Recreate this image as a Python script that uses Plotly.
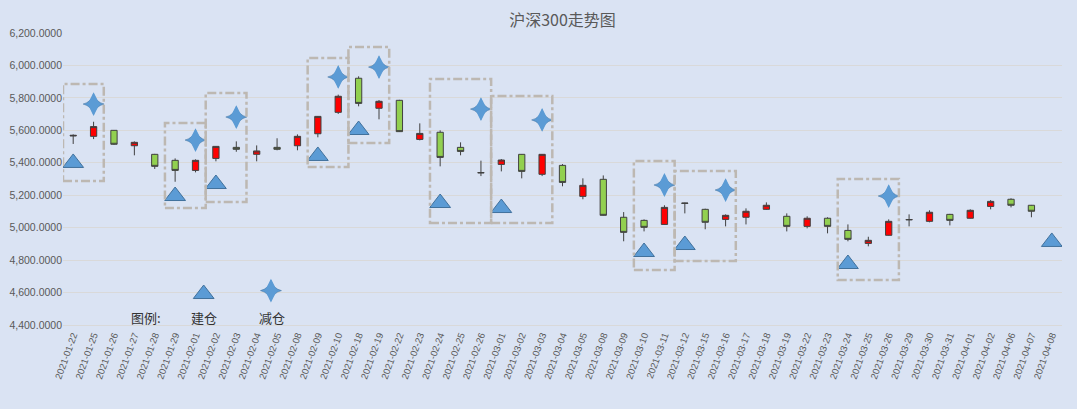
import plotly.graph_objects as go

DATES = ["2021-01-22", "2021-01-25", "2021-01-26", "2021-01-27", "2021-01-28", "2021-01-29",
         "2021-02-01", "2021-02-02", "2021-02-03", "2021-02-04", "2021-02-05", "2021-02-08",
         "2021-02-09", "2021-02-10", "2021-02-18", "2021-02-19", "2021-02-22", "2021-02-23",
         "2021-02-24", "2021-02-25", "2021-02-26", "2021-03-01", "2021-03-02", "2021-03-03",
         "2021-03-04", "2021-03-05", "2021-03-08", "2021-03-09", "2021-03-10", "2021-03-11",
         "2021-03-12", "2021-03-15", "2021-03-16", "2021-03-17", "2021-03-18", "2021-03-19",
         "2021-03-22", "2021-03-23", "2021-03-24", "2021-03-25", "2021-03-26", "2021-03-29",
         "2021-03-30", "2021-03-31", "2021-04-01", "2021-04-02", "2021-04-06", "2021-04-07",
         "2021-04-08"]

OPEN = [5565, 5563, 5600, 5505, 5452, 5415, 5353, 5427, 5495, 5452, 5495, 5505,
        5579, 5711, 5921, 5736, 5785, 5544, 5588, 5495, 5340, 5390, 5452, 5329,
        5384, 5193, 5298, 5064, 5045, 5020, 5152, 5113, 5051, 5064, 5113, 5070,
        5008, 5058, 4983, 4903, 4953, 5048, 5039, 5082, 5058, 5131, 5175, 5138, None]
HIGH = [5575, 5653, 5602, 5532, 5455, 5427, 5421, 5503, 5532, 5507, 5551, 5575,
        5688, 5820, 5933, 5787, 5788, 5643, 5600, 5526, 5413, 5423, 5454, 5454,
        5392, 5304, 5322, 5096, 5051, 5138, 5154, 5117, 5082, 5119, 5156, 5088,
        5070, 5064, 5020, 4944, 5051, 5082, 5107, 5085, 5113, 5170, 5181, 5140, None]
LOW = [5516, 5546, 5510, 5446, 5362, 5283, 5341, 5409, 5468, 5409, 5477, 5477,
       5557, 5701, 5748, 5668, 5590, 5538, 5378, 5446, 5318, 5347, 5304, 5318,
       5255, 5175, 5074, 4916, 4977, 5018, 5088, 4990, 5008, 5020, 5110, 4977,
       4996, 4965, 4916, 4885, 4951, 5008, 5033, 5014, 5056, 5113, 5125, 5064, None]
CLOSE = [5569, 5623, 5514, 5526, 5378, 5353, 5415, 5501, 5483, 5473, 5483, 5563,
         5686, 5810, 5766, 5779, 5592, 5581, 5433, 5470, 5338, 5417, 5347, 5452,
         5279, 5261, 5076, 4971, 5002, 5125, 5150, 5033, 5076, 5101, 5138, 5008,
         5058, 5008, 4928, 4922, 5039, 5050, 5095, 5045, 5107, 5162, 5138, 5101, None]

# 建仓 (triangles) and 减仓 (stars)
BUILD_DATES = ["2021-01-22", "2021-01-29", "2021-02-02", "2021-02-09", "2021-02-18", "2021-02-24",
               "2021-03-01", "2021-03-10", "2021-03-12", "2021-03-24", "2021-04-08"]
BUILD_VALUES = [5399, 5195, 5269, 5442, 5602, 5152, 5121, 4850, 4893, 4776, 4912]
REDUCE_DATES = ["2021-01-25", "2021-02-01", "2021-02-03", "2021-02-10", "2021-02-19", "2021-02-26",
                "2021-03-03", "2021-03-11", "2021-03-16", "2021-03-26"]
REDUCE_VALUES = [5762, 5540, 5682, 5929, 5990, 5731, 5664, 5263, 5232, 5195]

# dashed groups: first date, last date, low, high
BOX_START = ["2021-01-22", "2021-01-29", "2021-02-02", "2021-02-09", "2021-02-18",
             "2021-02-24", "2021-03-01", "2021-03-10", "2021-03-12", "2021-03-24"]
BOX_END = ["2021-01-25", "2021-02-01", "2021-02-03", "2021-02-10", "2021-02-19",
           "2021-02-26", "2021-03-03", "2021-03-11", "2021-03-16", "2021-03-26"]
BOX_LOW = [5288, 5121, 5158, 5374, 5522, 5029, 5029, 4739, 4795, 4677]
BOX_HIGH = [5886, 5645, 5830, 6046, 6114, 5916, 5812, 5411, 5349, 5300]

pos = {d: i for i, d in enumerate(DATES)}
xs = list(range(len(DATES)))

GRAY = "#595959"
BLUE = "#5B9BD5"
EDGE = "#41719C"


def add_triangles(x, y):
    fig.add_trace(go.Scatter(
        x=x, y=y, mode="markers",
        marker=dict(symbol="triangle-up", size=18, color=BLUE, line=dict(color=EDGE, width=1)),
        showlegend=False, hoverinfo="skip",
    ))


def add_stars(x, y):
    # thin four-point star: small star plus a tall narrow diamond
    fig.add_trace(go.Scatter(
        x=x, y=y, mode="markers",
        marker=dict(symbol="star-diamond", size=15, color=BLUE, line=dict(color=EDGE, width=0.5)),
        showlegend=False, hoverinfo="skip",
    ))
    fig.add_trace(go.Scatter(
        x=x, y=y, mode="markers",
        marker=dict(symbol="diamond-tall", size=17, color=BLUE, line=dict(color=EDGE, width=0)),
        showlegend=False, hoverinfo="skip",
    ))


fig = go.Figure()

fig.add_trace(go.Candlestick(
    x=xs, open=OPEN, high=HIGH, low=LOW, close=CLOSE,
    increasing=dict(fillcolor="#FF0000", line=dict(color="#404040", width=1)),
    decreasing=dict(fillcolor="#92D050", line=dict(color="#404040", width=1)),
    showlegend=False, hoverinfo="skip",
))

add_triangles([pos[d] for d in BUILD_DATES], BUILD_VALUES)
add_stars([pos[d] for d in REDUCE_DATES], REDUCE_VALUES)

# hand-made legend
add_triangles([6.4], [4591])
add_stars([9.7], [4612])
for tx, xx in [("图例:", 3.55), ("建仓", 6.4), ("减仓", 9.75)]:
    fig.add_annotation(x=xx, y=4449, text=tx, showarrow=False,
                       font=dict(size=13, color="#333333", family="Noto Sans CJK SC"))

for s, e, lo, hi in zip(BOX_START, BOX_END, BOX_LOW, BOX_HIGH):
    fig.add_shape(type="rect", x0=pos[s] - 0.5, x1=pos[e] + 0.5, y0=lo, y1=hi,
                  line=dict(color="#BDB8B2", width=2.5, dash="dashdot"))

fig.update_layout(
    width=1077, height=409,
    margin=dict(l=63, r=15, t=33, b=84, autoexpand=False),
    paper_bgcolor="#DAE3F3", plot_bgcolor="#DAE3F3",
    boxgap=0.56,
    title=dict(text="沪深300走势图", x=0.5, xanchor="center", xref="paper",
               y=1 - 20 / 409, yanchor="middle", yref="container", automargin=False,
               font=dict(size=16, color=GRAY, family="Noto Sans CJK SC")),
    font=dict(family="Liberation Sans", color=GRAY),
)
fig.update_xaxes(
    range=[-0.5, len(DATES) - 0.5], tickmode="array", tickvals=xs, ticktext=DATES,
    tickangle=-70, tickfont=dict(size=9.5, color=GRAY), showgrid=False, automargin=False,
    showline=True, linecolor="#D9D9D9", rangeslider=dict(visible=False), zeroline=False,
)
fig.update_yaxes(
    range=[4400, 6200], dtick=200, tickformat=",.4f", tickfont=dict(size=10.5, color=GRAY),
    gridcolor="#D9D9D9", zeroline=False, showline=False, automargin=False,
)

fig.write_html("out.html", config={"displayModeBar": False},
               post_script="document.body.style.margin='0';")
